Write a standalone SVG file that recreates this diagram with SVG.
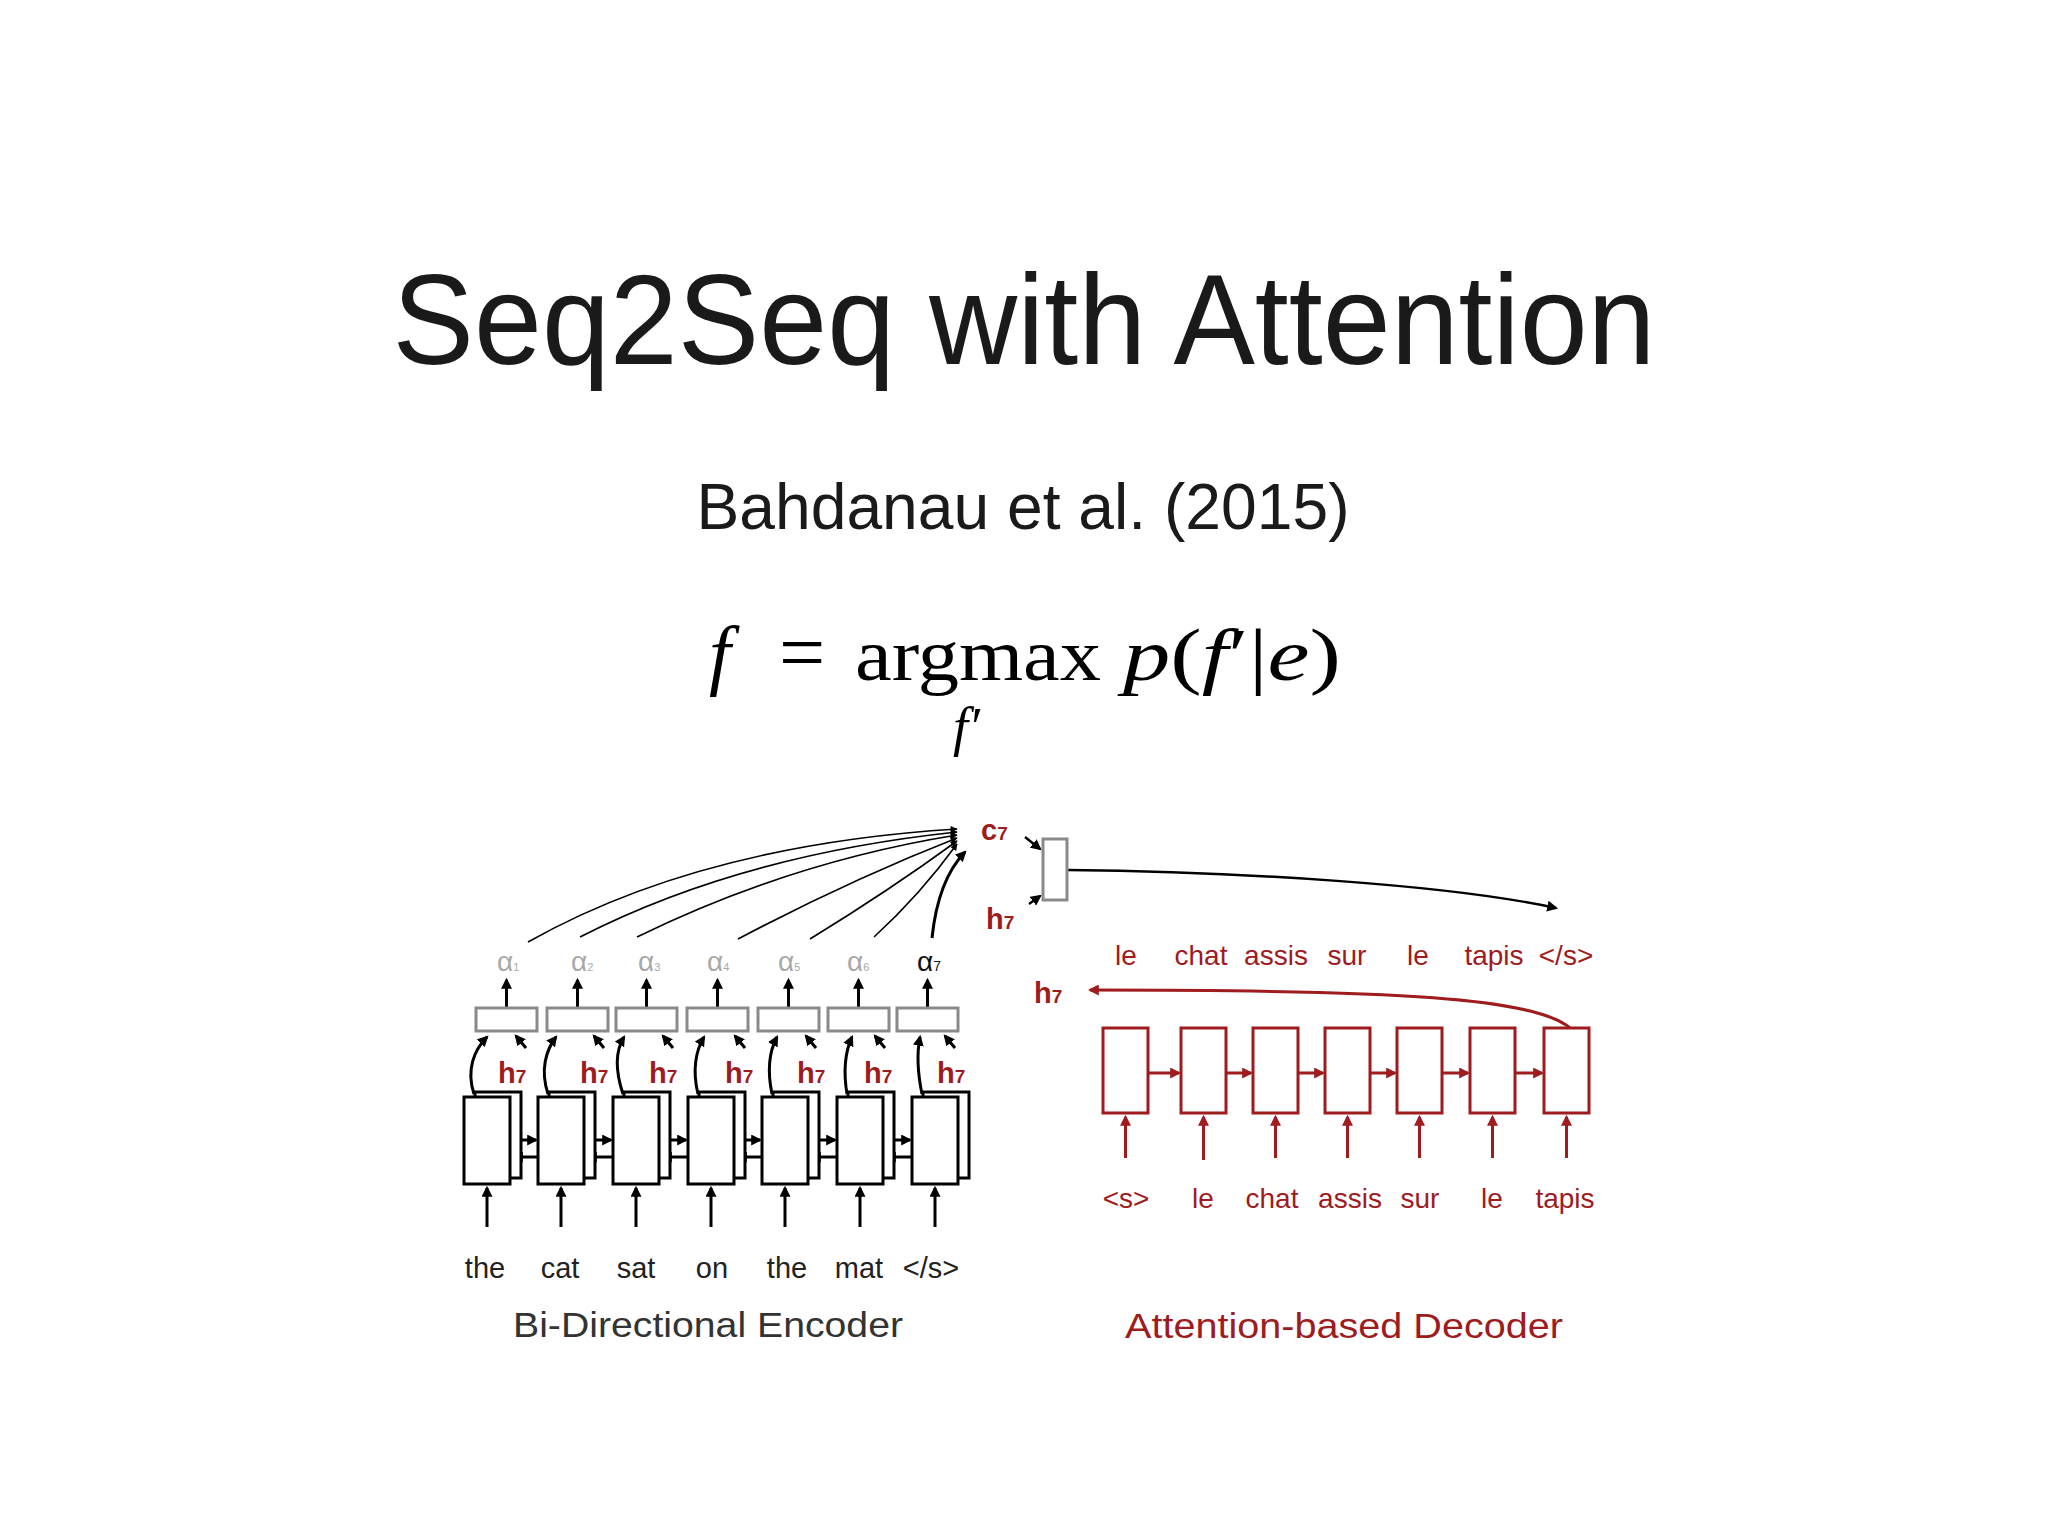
<svg xmlns="http://www.w3.org/2000/svg" width="2048" height="1536" viewBox="0 0 2048 1536">
<defs>
<marker id="ah" viewBox="0 0 10 10" refX="8" refY="5" markerWidth="11" markerHeight="11" markerUnits="userSpaceOnUse" orient="auto"><path d="M0,0 L10,5 L0,10 z" fill="#000"/></marker>
<marker id="ahs" viewBox="0 0 10 10" refX="9" refY="5" markerWidth="8" markerHeight="7" markerUnits="userSpaceOnUse" orient="auto"><path d="M0,0 L10,5 L0,10 z" fill="#000"/></marker>
<marker id="ahr" viewBox="0 0 10 10" refX="8" refY="5" markerWidth="11" markerHeight="11" markerUnits="userSpaceOnUse" orient="auto"><path d="M0,0 L10,5 L0,10 z" fill="#9e1b1e"/></marker>
</defs>
<style>
text{font-family:"Liberation Sans",Arial,sans-serif}
.ew{font-size:29px;fill:#222;text-anchor:middle}
.dw{font-size:28px;fill:#9e1b1e;text-anchor:middle}
.h{font-weight:bold;fill:#9e1b1e;font-size:29px}
.s{font-size:19px}
.al{font-size:28px;fill:#a8a8a8}
.as{font-size:11px}
.cell{fill:#fff;stroke:#000;stroke-width:3}
.abox{fill:#fff;stroke:#8a8a8a;stroke-width:3}
.dcell{fill:#fff;stroke:#9e1b1e;stroke-width:3}
.ar{stroke:#000;stroke-width:3;fill:none;marker-end:url(#ah)}
.ar2{stroke:#000;stroke-width:2.4;fill:none;marker-end:url(#ah)}
.thin{stroke:#000;stroke-width:1.6;fill:none;marker-end:url(#ahs)}
.red{stroke:#9e1b1e;stroke-width:3;fill:none;marker-end:url(#ahr)}
.mth{font-family:"Liberation Serif","DejaVu Serif",serif}
</style>
<rect width="2048" height="1536" fill="#fff"/>

<g id="title">
<text x="1024" y="364" text-anchor="middle" font-size="128" fill="#1a1a1a" textLength="1263" lengthAdjust="spacingAndGlyphs">Seq2Seq with Attention</text>
<text x="1023" y="529" text-anchor="middle" font-size="64" fill="#1a1a1a" textLength="653" lengthAdjust="spacingAndGlyphs">Bahdanau et al. (2015)</text>
</g>

<g id="formula" class="mth" fill="#000">
<text class="mth" x="709" y="680" font-size="78" font-style="italic">f</text>
<text class="mth" x="802" y="680" font-size="82" text-anchor="middle">=</text>
<text class="mth" x="855" y="680" font-size="74" textLength="246" lengthAdjust="spacingAndGlyphs">argmax</text>
<text class="mth" x="1123" y="680" font-size="74" textLength="218" lengthAdjust="spacingAndGlyphs"><tspan font-style="italic">p</tspan>(<tspan font-style="italic">f</tspan>′|<tspan font-style="italic">e</tspan>)</text>
<text class="mth" x="953" y="745" font-size="54" font-style="italic">f′</text>
</g>

<g id="connectors">
<path class="thin" d="M528,942 Q700,845 957,829"/>
<path class="thin" d="M580,937 Q740,855 957,832"/>
<path class="thin" d="M637,937 Q790,862 957,835"/>
<path class="thin" d="M738,939 Q850,880 957,838"/>
<path class="thin" d="M810,939 Q890,890 957,841"/>
<path class="thin" d="M874,937 Q920,895 957,844"/>
<path class="ar" d="M932,938 Q938,880 965,852"/>
<path class="ar" d="M506.5,1007 L506.5,980"/>
<path class="ar" d="M577.5,1007 L577.5,980"/>
<path class="ar" d="M646.5,1007 L646.5,980"/>
<path class="ar" d="M717.5,1007 L717.5,980"/>
<path class="ar" d="M788.5,1007 L788.5,980"/>
<path class="ar" d="M858.5,1007 L858.5,980"/>
<path class="ar" d="M927.5,1007 L927.5,980"/>
<path class="ar" d="M474,1094 C466,1070 474,1050 487,1037"/>
<path class="ar" d="M548,1094 C540,1070 546,1050 556,1037"/>
<path class="ar" d="M623,1094 C615,1070 616,1050 624,1037"/>
<path class="ar" d="M698,1094 C692,1070 696,1050 704,1037"/>
<path class="ar" d="M772,1094 C767,1070 770,1050 777,1037"/>
<path class="ar" d="M847,1094 C843,1070 846,1050 852,1037"/>
<path class="ar" d="M922,1094 C917,1070 917,1052 920,1037"/>
<path class="ar" d="M526,1048 L516,1036"/>
<path class="ar" d="M604,1048 L594,1036"/>
<path class="ar" d="M673,1048 L663,1036"/>
<path class="ar" d="M745,1048 L735,1036"/>
<path class="ar" d="M816,1048 L806,1036"/>
<path class="ar" d="M885,1048 L875,1036"/>
<path class="ar" d="M955,1048 L945,1036"/>
<path class="ar" d="M510,1140 L536,1140"/>
<path class="ar" d="M584,1140 L611,1140"/>
<path class="ar" d="M659,1140 L686,1140"/>
<path class="ar" d="M734,1140 L760,1140"/>
<path class="ar" d="M808,1140 L835,1140"/>
<path class="ar" d="M883,1140 L910,1140"/>
<path class="ar" d="M538,1157 L514,1157"/>
<path class="ar" d="M613,1157 L588,1157"/>
<path class="ar" d="M688,1157 L663,1157"/>
<path class="ar" d="M762,1157 L738,1157"/>
<path class="ar" d="M837,1157 L812,1157"/>
<path class="ar" d="M912,1157 L887,1157"/>
<path class="ar" d="M487,1227 L487,1188"/>
<path class="ar" d="M561,1227 L561,1188"/>
<path class="ar" d="M636,1227 L636,1188"/>
<path class="ar" d="M711,1227 L711,1188"/>
<path class="ar" d="M785,1227 L785,1188"/>
<path class="ar" d="M860,1227 L860,1188"/>
<path class="ar" d="M935,1227 L935,1188"/>
<path class="ar2" d="M1025,837 L1040,849"/>
<path class="ar2" d="M1029,904 L1040,896"/>
<path class="ar2" d="M1067,870 C1250,872 1450,885 1556,908"/>
<path class="red" d="M1570,1028 C1535,998 1400,990 1090,990"/>
<path class="red" d="M1148,1073 L1179,1073"/>
<path class="red" d="M1226,1073 L1251,1073"/>
<path class="red" d="M1298,1073 L1323,1073"/>
<path class="red" d="M1370,1073 L1395,1073"/>
<path class="red" d="M1442,1073 L1468,1073"/>
<path class="red" d="M1515,1073 L1542,1073"/>
<path class="red" d="M1125.5,1158 L1125.5,1117"/>
<path class="red" d="M1203.5,1160 L1203.5,1117"/>
<path class="red" d="M1275.5,1158 L1275.5,1117"/>
<path class="red" d="M1347.5,1158 L1347.5,1117"/>
<path class="red" d="M1419.5,1158 L1419.5,1117"/>
<path class="red" d="M1492.5,1158 L1492.5,1117"/>
<path class="red" d="M1566.5,1158 L1566.5,1117"/>
</g>

<g id="alpha-1"><rect class="abox" x="476" y="1008" width="61" height="23"/><text class="al" x="497" y="971">α<tspan class="as">1</tspan></text></g>
<g id="alpha-2"><rect class="abox" x="547" y="1008" width="61" height="23"/><text class="al" x="571" y="971">α<tspan class="as">2</tspan></text></g>
<g id="alpha-3"><rect class="abox" x="616" y="1008" width="61" height="23"/><text class="al" x="638" y="971">α<tspan class="as">3</tspan></text></g>
<g id="alpha-4"><rect class="abox" x="687" y="1008" width="61" height="23"/><text class="al" x="707" y="971">α<tspan class="as">4</tspan></text></g>
<g id="alpha-5"><rect class="abox" x="758" y="1008" width="61" height="23"/><text class="al" x="778" y="971">α<tspan class="as">5</tspan></text></g>
<g id="alpha-6"><rect class="abox" x="828" y="1008" width="61" height="23"/><text class="al" x="847" y="971">α<tspan class="as">6</tspan></text></g>
<g id="alpha-7"><rect class="abox" x="897" y="1008" width="61" height="23"/><text class="al" x="917" y="971" style="fill:#111">α<tspan font-size="14">7</tspan></text></g>

<g id="enc-1"><rect class="cell" x="475" y="1092" width="46" height="86"/><rect class="cell" x="464" y="1097" width="46" height="87"/><text class="h" x="498" y="1083">h<tspan class="s">7</tspan></text><text class="ew" x="485" y="1278">the</text></g>
<g id="enc-2"><rect class="cell" x="549" y="1092" width="46" height="86"/><rect class="cell" x="538" y="1097" width="46" height="87"/><text class="h" x="580" y="1083">h<tspan class="s">7</tspan></text><text class="ew" x="560" y="1278">cat</text></g>
<g id="enc-3"><rect class="cell" x="624" y="1092" width="46" height="86"/><rect class="cell" x="613" y="1097" width="46" height="87"/><text class="h" x="649" y="1083">h<tspan class="s">7</tspan></text><text class="ew" x="636" y="1278">sat</text></g>
<g id="enc-4"><rect class="cell" x="699" y="1092" width="46" height="86"/><rect class="cell" x="688" y="1097" width="46" height="87"/><text class="h" x="725" y="1083">h<tspan class="s">7</tspan></text><text class="ew" x="712" y="1278">on</text></g>
<g id="enc-5"><rect class="cell" x="773" y="1092" width="46" height="86"/><rect class="cell" x="762" y="1097" width="46" height="87"/><text class="h" x="797" y="1083">h<tspan class="s">7</tspan></text><text class="ew" x="787" y="1278">the</text></g>
<g id="enc-6"><rect class="cell" x="848" y="1092" width="46" height="86"/><rect class="cell" x="837" y="1097" width="46" height="87"/><text class="h" x="864" y="1083">h<tspan class="s">7</tspan></text><text class="ew" x="859" y="1278">mat</text></g>
<g id="enc-7"><rect class="cell" x="923" y="1092" width="46" height="86"/><rect class="cell" x="912" y="1097" width="46" height="87"/><text class="h" x="937" y="1083">h<tspan class="s">7</tspan></text><text class="ew" x="931" y="1278">&lt;/s&gt;</text></g>

<g id="encoder-label"><text x="513" y="1337" font-size="35" fill="#333" textLength="390" lengthAdjust="spacingAndGlyphs">Bi-Directional Encoder</text></g>

<g id="context"><text class="h" x="981" y="840" font-size="28">c<tspan class="s">7</tspan></text></g>
<g id="combine"><rect class="abox" x="1043" y="839" width="24" height="61"/><text class="h" x="986" y="929">h<tspan class="s">7</tspan></text></g>
<g id="dec-h7"><text class="h" x="1034" y="1003">h<tspan class="s">7</tspan></text></g>

<g id="dec-outputs">
<text class="dw" x="1126" y="965">le</text>
<text class="dw" x="1201" y="965">chat</text>
<text class="dw" x="1276" y="965">assis</text>
<text class="dw" x="1347" y="965">sur</text>
<text class="dw" x="1418" y="965">le</text>
<text class="dw" x="1494" y="965">tapis</text>
<text class="dw" x="1566" y="965">&lt;/s&gt;</text>
</g>

<g id="dec-1"><rect class="dcell" x="1103" y="1028" width="45" height="85"/><text class="dw" x="1126" y="1208">&lt;s&gt;</text></g>
<g id="dec-2"><rect class="dcell" x="1181" y="1028" width="45" height="85"/><text class="dw" x="1203" y="1208">le</text></g>
<g id="dec-3"><rect class="dcell" x="1253" y="1028" width="45" height="85"/><text class="dw" x="1272" y="1208">chat</text></g>
<g id="dec-4"><rect class="dcell" x="1325" y="1028" width="45" height="85"/><text class="dw" x="1350" y="1208">assis</text></g>
<g id="dec-5"><rect class="dcell" x="1397" y="1028" width="45" height="85"/><text class="dw" x="1420" y="1208">sur</text></g>
<g id="dec-6"><rect class="dcell" x="1470" y="1028" width="45" height="85"/><text class="dw" x="1492" y="1208">le</text></g>
<g id="dec-7"><rect class="dcell" x="1544" y="1028" width="45" height="85"/><text class="dw" x="1565" y="1208">tapis</text></g>

<g id="decoder-label"><text x="1125" y="1338" font-size="35" fill="#9e1b1e" textLength="438" lengthAdjust="spacingAndGlyphs">Attention-based Decoder</text></g>
</svg>
